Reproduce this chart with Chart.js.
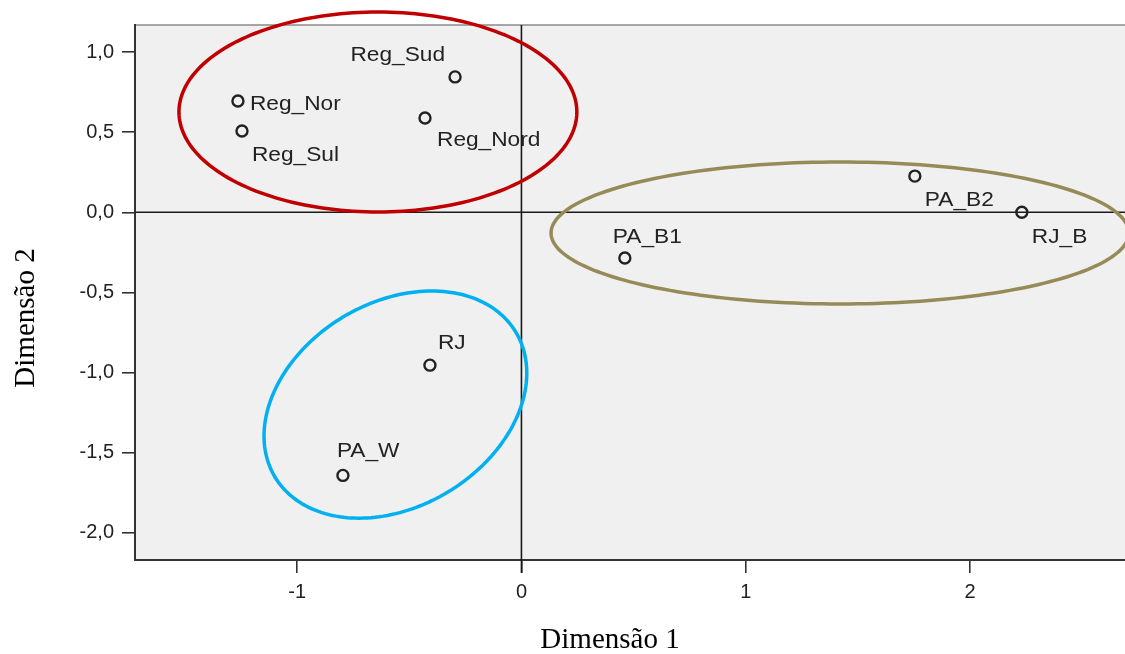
<!DOCTYPE html>
<html>
<head>
<meta charset="utf-8">
<script src="https://cdn.jsdelivr.net/npm/chart.js@4"></script>
<style>
  body { margin: 0; background: #fff; }
  #wrap { width: 1125px; height: 654px; position: relative; }
</style>
</head>
<body>
<div id="wrap"><canvas id="chart"></canvas></div>
<script>
// category points (dimension 1, dimension 2)
const names = ['Reg_Sud', 'Reg_Nor', 'Reg_Sul', 'Reg_Nord', 'PA_B2', 'RJ_B', 'PA_B1', 'RJ', 'PA_W'];
const dim1 = [-0.296, -1.264, -1.246, -0.430, 1.754, 2.231, 0.461, -0.408, -0.796];
const dim2 = [0.845, 0.695, 0.507, 0.589, 0.226, 0.0, -0.285, -0.954, -1.642];

const xTicks = [-1, 0, 1, 2];
const yTicks = [1.0, 0.5, 0.0, -0.5, -1.0, -1.5, -2.0];

// group ellipses in data units: centre + two conjugate half-axes
const ellCx = [-0.640, 1.420, -0.562];
const ellCy = [0.626, -0.129, -1.200];
const ellU = [[0.887, 0], [1.288, 0], [0.537, 0.452]];
const ellV = [[0, 0.624], [0, 0.443], [0.234, -0.546]];
const ellColors = ['#c00000', '#968b58', '#00b0f0'];

// label placement next to each point: dx, dy, align
const labelPos = [
  [-10, -22, 'right'], [12, 3, 'left'], [10, 24, 'left'], [12, 22, 'left'],
  [10, 24, 'left'], [10, 25, 'left'], [-12, -21, 'left'], [8, -22, 'left'], [-6, -24, 'left']
];

const points = dim1.map((x, i) => ({ x: x, y: dim2[i] }));

const decorPlugin = {
  id: 'decor',
  beforeDraw(chart) {
    const { ctx, chartArea: a } = chart;
    ctx.save();
    ctx.fillStyle = '#fff';
    ctx.fillRect(0, 0, chart.width, chart.height);
    ctx.fillStyle = '#f0f0f0';
    ctx.fillRect(a.left, a.top, a.right - a.left, a.bottom - a.top);
    ctx.strokeStyle = '#8a8a8a';
    ctx.lineWidth = 1.5;
    ctx.beginPath();
    ctx.moveTo(a.left, a.top);
    ctx.lineTo(a.right, a.top);
    ctx.stroke();
    ctx.restore();
  },
  beforeDatasetsDraw(chart) {
    const { ctx, chartArea: a, scales } = chart;
    const x0 = scales.x.getPixelForValue(0);
    const y0 = scales.y.getPixelForValue(0);
    ctx.save();
    ctx.strokeStyle = '#1a1a1a';
    ctx.lineWidth = 1.6;
    ctx.beginPath();
    ctx.moveTo(x0, a.top);
    ctx.lineTo(x0, a.bottom + 13);
    ctx.moveTo(a.left, y0);
    ctx.lineTo(a.right, y0);
    ctx.stroke();
    ctx.restore();
  },
  afterDatasetsDraw(chart) {
    const { ctx, scales } = chart;
    const sx = scales.x, sy = scales.y;
    ctx.save();
    // ellipses
    ctx.lineWidth = 3.5;
    ellCx.forEach((cx, k) => {
      ctx.strokeStyle = ellColors[k];
      ctx.beginPath();
      for (let s = 0; s <= 200; s++) {
        const t = s / 200 * Math.PI * 2;
        const vx = cx + ellU[k][0] * Math.cos(t) + ellV[k][0] * Math.sin(t);
        const vy = ellCy[k] + ellU[k][1] * Math.cos(t) + ellV[k][1] * Math.sin(t);
        const px = sx.getPixelForValue(vx), py = sy.getPixelForValue(vy);
        if (s === 0) ctx.moveTo(px, py); else ctx.lineTo(px, py);
      }
      ctx.closePath();
      ctx.stroke();
    });
    // point labels
    ctx.fillStyle = '#222';
    ctx.font = '21px "Liberation Sans", Arial, sans-serif';
    ctx.textBaseline = 'middle';
    const meta = chart.getDatasetMeta(0);
    meta.data.forEach((el, i) => {
      const p = labelPos[i];
      ctx.textAlign = p[2];
      ctx.save();
      ctx.translate(el.x + p[0], el.y + p[1]);
      ctx.scale(1.08, 1);
      ctx.fillText(names[i], 0, 0);
      ctx.restore();
    });
    // axis titles
    ctx.fillStyle = '#000';
    ctx.font = '29px "Liberation Serif", "Times New Roman", serif';
    ctx.textAlign = 'center';
    ctx.fillText('Dimensão 1', 610, 640);
    ctx.save();
    ctx.translate(26, 318);
    ctx.rotate(-Math.PI / 2);
    ctx.fillText('Dimensão 2', 0, 0);
    ctx.restore();
    ctx.restore();
  }
};

const tickFont = { family: '"Liberation Sans", Arial, sans-serif', size: 20 };

new Chart(document.getElementById('chart'), {
  type: 'scatter',
  data: {
    datasets: [{
      data: points,
      pointStyle: 'circle',
      pointRadius: 5.5,
      pointHoverRadius: 5.5,
      pointBorderWidth: 2.4,
      borderColor: '#222',
      backgroundColor: 'rgba(0,0,0,0)'
    }]
  },
  options: {
    responsive: true,
    maintainAspectRatio: false,
    animation: false,
    layout: { autoPadding: false, padding: { top: 25, right: 0, left: 0, bottom: 0 } },
    plugins: { legend: { display: false }, tooltip: { enabled: false } },
    scales: {
      x: {
        type: 'linear',
        min: -1.723,
        max: 2.691,
        afterBuildTicks: s => { s.ticks = xTicks.map(v => ({ value: v })); },
        afterFit: s => { s.height = 94; },
        border: { display: true, color: '#333', width: 2 },
        grid: { drawOnChartArea: false, drawTicks: true, tickLength: 13, tickColor: '#333', lineWidth: 1.6 },
        ticks: {
          color: '#222', font: tickFont, padding: 7, maxRotation: 0,
          callback: v => String(v)
        }
      },
      y: {
        type: 'linear',
        min: -2.170,
        max: 1.169,
        afterBuildTicks: s => { s.ticks = yTicks.map(v => ({ value: v })); },
        afterFit: s => { s.width = 135; },
        border: { display: true, color: '#333', width: 2 },
        grid: { drawOnChartArea: false, drawTicks: true, tickLength: 13, tickColor: '#333', lineWidth: 1.6 },
        ticks: {
          color: '#222', font: tickFont, padding: 8,
          callback: v => v.toFixed(1).replace('.', ',')
        }
      }
    }
  },
  plugins: [decorPlugin]
});
</script>
</body>
</html>
